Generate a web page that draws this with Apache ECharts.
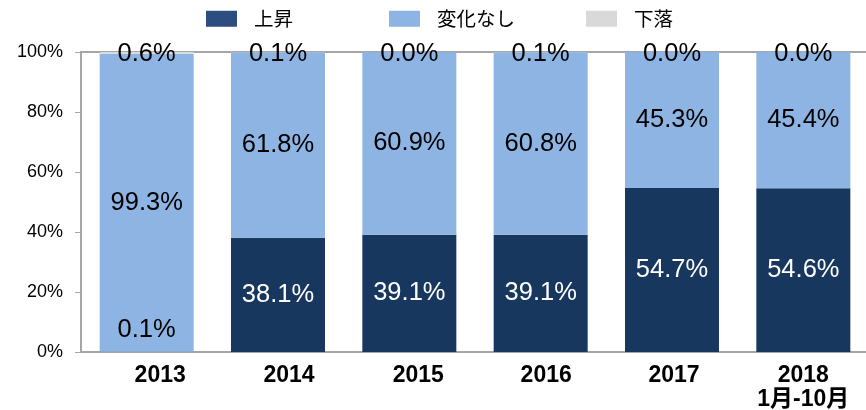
<!DOCTYPE html>
<html>
<head>
<meta charset="utf-8">
<script src="https://cdn.jsdelivr.net/npm/echarts@6/dist/echarts.min.js"></script>
<style>
  html, body { margin: 0; padding: 0; background: #fff; }
  #chart { width: 866px; height: 410px; }
</style>
</head>
<body>
<div id="chart"></div>
<script>
const categories = ["2013", "2014", "2015", "2016", "2017", "2018\n1月-10月"];
const seriesNames = ["上昇", "変化なし", "下落"];
const rise = [0.1, 38.1, 39.1, 39.1, 54.7, 54.6];
const noChange = [99.3, 61.8, 60.9, 60.8, 45.3, 45.4];
const fall = [0.6, 0.1, 0.0, 0.1, 0.0, 0.0];
const yTicks = [0, 20, 40, 60, 80, 100];

const font = "'Liberation Sans', Arial, 'Noto Sans CJK JP', sans-serif";
const chart = echarts.init(document.getElementById("chart"));

// 凡例の色（上昇のアイコンは棒より少し明るい）
const legendColors = ["#2C4D7F", "#8DB4E2", "#D9D9D9"];
const legendLeft = [206, 389, 586];
// 元の図では年ラベルが棒の中心から少し右にずれている
const xLabelPad = [27, 22, 18, 11, 4, 0];

// 2013年の上昇は小さいので棒の上に黒字で表示
const riseData = rise.map((v, i) => {
  if (i === 0) {
    return { value: v, label: { position: "top", distance: 9, color: "#000" } };
  }
  return v;
});

const pct = p => p.value.toFixed(1) + "%";

chart.setOption({
  animation: false,
  textStyle: { fontFamily: font },
  color: ["#17375E", "#8DB4E2", "#D9D9D9"],
  legend: seriesNames.map((n, i) => ({
    data: [{ name: n, itemStyle: { color: legendColors[i] } }],
    top: 9,
    left: legendLeft[i],
    padding: 0,
    icon: "rect",
    itemWidth: 31,
    itemHeight: 16,
    selectedMode: false,
    textStyle: {
      fontSize: 19.5,
      color: "#000",
      fontFamily: "'Noto Sans CJK JP', sans-serif",
      padding: [0, 0, 0, 12]
    }
  })),
  grid: {
    left: 81,
    right: -3,
    top: 52,
    bottom: 58,
    containLabel: false,
    outerBoundsMode: "none"
  },
  xAxis: [
    {
      type: "category",
      data: categories.map((c, i) => ({
        value: c,
        textStyle: { padding: [0, 0, 0, xLabelPad[i]] }
      })),
      axisLine: { lineStyle: { color: "#A6A6A6", width: 2 } },
      axisTick: { show: false },
      axisLabel: {
        color: "#000",
        fontSize: 23,
        fontWeight: "bold",
        lineHeight: 24,
        margin: 12
      }
    },
    {
      type: "category",
      position: "top",
      data: categories,
      axisLine: { lineStyle: { color: "#A6A6A6", width: 2 } },
      axisTick: { show: false },
      axisLabel: { show: false }
    }
  ],
  yAxis: {
    type: "value",
    min: yTicks[0],
    max: yTicks[yTicks.length - 1],
    interval: 20,
    axisLine: { show: true, lineStyle: { color: "#A6A6A6", width: 2 } },
    axisTick: { show: true, length: 6, lineStyle: { color: "#A6A6A6" } },
    splitLine: { show: false },
    axisLabel: {
      formatter: "{value}%",
      color: "#000",
      fontSize: 18,
      margin: 18
    }
  },
  series: [
    {
      name: seriesNames[0],
      type: "bar",
      stack: "total",
      barWidth: 94,
      data: riseData,
      label: { show: true, position: "inside", color: "#fff", fontSize: 25.5, formatter: pct }
    },
    {
      name: seriesNames[1],
      type: "bar",
      stack: "total",
      barWidth: 94,
      data: noChange,
      label: { show: true, position: "inside", color: "#000", fontSize: 25.5, formatter: pct }
    },
    {
      name: seriesNames[2],
      type: "bar",
      stack: "total",
      barWidth: 94,
      data: fall,
      label: {
        show: true,
        position: "top",
        distance: -15,
        color: "#000",
        fontSize: 25.5,
        formatter: pct
      }
    }
  ]
});
</script>
</body>
</html>
